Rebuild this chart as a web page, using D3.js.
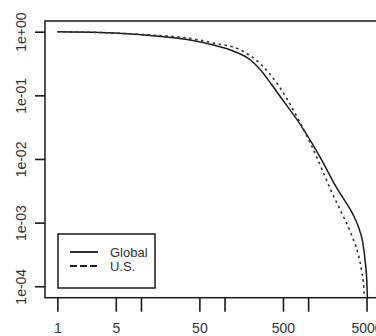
<!DOCTYPE html>
<html>
<head>
<meta charset="utf-8">
<script src="https://cdn.jsdelivr.net/npm/d3@7"></script>
<style>
  html, body { margin: 0; padding: 0; background: #fff; }
  svg { display: block; font-family: "Liberation Sans", Arial, sans-serif; }
</style>
</head>
<body>
<svg id="chart" width="376" height="336"></svg>
<script>
// Complementary cumulative distribution, log-log
const globalX = [1, 3.25, 12.9, 35.9, 73.6, 117.7, 204.5, 270, 355, 468, 815, 1412, 2136, 2816, 3428, 4046, 4519, 4826, 5047, 5117];
const globalY = [1, 0.971, 0.872, 0.754, 0.618, 0.516, 0.359, 0.250, 0.156, 0.094, 0.0341, 0.01033, 0.00375, 0.0021, 0.00136, 0.00082, 0.000476, 0.000239, 0.000116, 0.0000675];
const usX = [1, 3.25, 12.9, 35.9, 73.6, 155, 270, 431, 569, 750, 1074, 1496, 1866, 2460, 3243, 3936, 4392, 4645, 4694];
const usY = [1, 0.971, 0.887, 0.796, 0.664, 0.516, 0.310, 0.1505, 0.0844, 0.0440, 0.01715, 0.00645, 0.00324, 0.001517, 0.000684, 0.000331, 0.0001666, 0.0000934, 0.0000675];

const xTicks = [1, 5, 10, 50, 100, 500, 1000, 5000];
const xTickLabels = ["1", "5", "", "50", "", "500", "", "5000"];
const yTicks = [1, 0.1, 0.01, 0.001, 0.0001];
const yTickLabels = ["1e+00", "1e-01", "1e-02", "1e-03", "1e-04"];

const seriesNames = ["Global", "U.S."];

const svg = d3.select("#chart");
const ink = "#1a1a1a";

const box = { left: 45, top: 21, right: 379, bottom: 297.7 };

const x = d3.scaleLog()
  .domain([Math.pow(10, -0.148), Math.pow(10, 3.848)])
  .range([box.left, box.right]);
const y = d3.scaleLog()
  .domain([Math.pow(10, 0.168), Math.pow(10, -4.18)])
  .range([box.top, box.bottom]);

// y axis
const yAxis = d3.axisLeft(y)
  .tickValues(yTicks)
  .tickFormat((d, i) => yTickLabels[i])
  .tickSizeInner(10)
  .tickSizeOuter(0);
const gy = svg.append("g").attr("transform", `translate(${box.left},0)`).call(yAxis);
gy.select(".domain").remove();
gy.selectAll(".tick line").attr("stroke", ink).attr("stroke-width", 1.6);
gy.selectAll(".tick text")
  .attr("x", null).attr("dy", null)
  .attr("transform", "translate(-19.5,0) rotate(-90)")
  .attr("text-anchor", "middle")
  .attr("font-size", 14)
  .attr("fill", "#333")
  .attr("font-family", "Liberation Sans, Arial, sans-serif");

// x axis
const xAxis = d3.axisBottom(x)
  .tickValues(xTicks)
  .tickFormat((d, i) => xTickLabels[i])
  .tickSizeInner(14)
  .tickSizeOuter(0);
const gx = svg.append("g").attr("transform", `translate(0,${box.bottom})`).call(xAxis);
gx.select(".domain").remove();
gx.selectAll(".tick line").attr("stroke", ink).attr("stroke-width", 1.6);
gx.selectAll(".tick text")
  .attr("y", 35).attr("dy", null)
  .attr("font-size", 14)
  .attr("fill", "#333")
  .attr("font-family", "Liberation Sans, Arial, sans-serif");

// plot frame
svg.append("rect")
  .attr("x", box.left).attr("y", box.top)
  .attr("width", box.right - box.left).attr("height", box.bottom - box.top)
  .attr("fill", "none").attr("stroke", ink).attr("stroke-width", 1.5);

const line = d3.line()
  .x(d => x(d[0]))
  .y(d => y(d[1]))
  .curve(d3.curveMonotoneX);

svg.append("path")
  .datum(globalX.map((v, i) => [v, globalY[i]]))
  .attr("d", line)
  .attr("fill", "none").attr("stroke", ink).attr("stroke-width", 1.5);

svg.append("path")
  .datum(usX.map((v, i) => [v, usY[i]]))
  .attr("d", line)
  .attr("fill", "none").attr("stroke", "#333").attr("stroke-width", 1.6)
  .attr("stroke-dasharray", "2.5,3.5");

// legend
const lg = svg.append("g");
lg.append("rect")
  .attr("x", 58).attr("y", 234).attr("width", 97).attr("height", 54)
  .attr("fill", "#fff").attr("stroke", ink).attr("stroke-width", 1.5);
const rows = [
  { name: seriesNames[0], y: 252, dash: null },
  { name: seriesNames[1], y: 266, dash: "7,3" }
];
rows.forEach(r => {
  lg.append("line")
    .attr("x1", 70).attr("x2", 98).attr("y1", r.y).attr("y2", r.y)
    .attr("stroke", ink).attr("stroke-width", 1.8)
    .attr("stroke-dasharray", r.dash);
  lg.append("text")
    .attr("x", 110).attr("y", r.y + 4.5)
    .attr("font-size", 13)
    .attr("fill", "#333")
    .text(r.name);
});
</script>
</body>
</html>
